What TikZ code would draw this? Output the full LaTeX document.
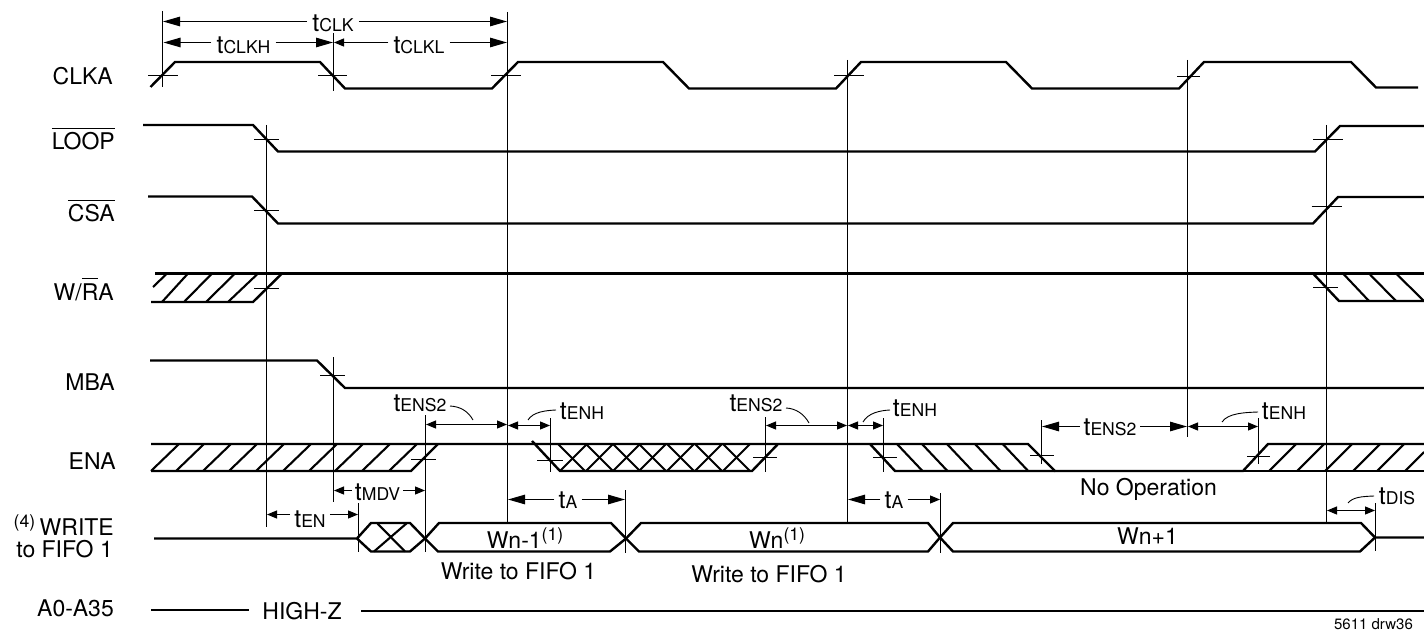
\documentclass[tikz,border=0pt]{standalone}
\usepackage{fontspec}
\setmainfont{TeX Gyre Heros}
\usetikzlibrary{arrows.meta}
\newcommand{\fbig}{\fontsize{23}{25}\selectfont}
\newcommand{\fsub}{\fontsize{17.6}{19}\selectfont}
\newcommand{\tl}[1]{{\fontsize{25}{26}\selectfont t\fsub #1}}
\newcommand{\supn}[1]{\raisebox{8pt}{\fsub(#1)}}
\newcommand{\ovl}[1]{\setbox0=\hbox{#1}\rlap{\raisebox{20.8pt}{\rule{\wd0}{1.1pt}}}\box0}
\tikzset{
  sig/.style={line width=2.4pt,line join=miter},
  hatch/.style={line width=2.1pt},
  thinl/.style={line width=1.1pt},
  lead/.style={line width=0.9pt},
  bigdim/.style={line width=1.1pt,-{Triangle[length=17pt,width=9.5pt]}},
  smalldim/.style={line width=1.1pt,-{Triangle[length=10pt,width=8pt]}},
  bothsmall/.style={line width=1.1pt,{Triangle[length=10pt,width=8pt]}-{Triangle[length=10pt,width=8pt]}},
  lab/.style={anchor=base east,inner sep=0pt,font=\fbig},
  txt/.style={anchor=base,inner sep=0pt,font=\fbig},
  tlab/.style={anchor=base,inner ysep=0pt,inner xsep=#1},
  tlab/.default=4pt
}
\begin{document}
\begin{tikzpicture}[x=1pt,y=-1pt]
\useasboundingbox (0,0) rectangle (1424,631);
\fill[white] (0,0) rectangle (1424,631);

% signal labels
\node[lab] (lclk) at (113,85) {CLKA};
\node[lab] (lloop) at (115,150) {\ovl{LOOP}};
\node[lab] (lcsa) at (115,222) {\ovl{CSA}};
\node[lab] (lwra) at (114,300) {W/\ovl{R}A};
\node[lab] (lmba) at (115,390.7) {MBA};
\node[lab] (lena) at (116,469) {ENA};
\node[lab] (lwr) at (114,535.7) {\supn{4}\hspace{4.5pt}WRITE};
\node[lab] (lff) at (113,557.7) {to FIFO 1};
\node[lab] (la) at (114,616.7) {A0-A35};

% waveforms
\draw[sig] (150.5,87) -- (175,62) -- (320,62) -- (345,88.5) -- (492,88.5) -- (518,62) -- (663,62) -- (689,88.5) -- (836,88.5) -- (861,62) -- (1006,62) -- (1032,88.5) -- (1179,88.5) -- (1204,62) -- (1351,62) -- (1376,87.5) -- (1418,87.5);
\draw[sig] (143,125) -- (253,125) -- (278,151.5) -- (1315,151.5) -- (1340,126) -- (1424,126);
\draw[sig] (148,196.5) -- (252,196.5) -- (278,223.5) -- (1313,223.5) -- (1338,197) -- (1424,197);
% W/RA
\draw[sig] (155,273.5) -- (1424,273.5);
\draw[sig] (151,302) -- (253,302) -- (282,273.5);
\draw[sig] (1313,273.5) -- (1339,301) -- (1424,301);
\foreach \a/\b/\c/\d in {153/287/167/273.5,162/302/188/273.5,184/302/212/273.5,206/302/235/273.5,228/302/258/273.5,
   1343/273.5/1369/301,1369/273.5/1396/301,1396/273.5/1424/301}
  \draw[hatch] (\a,\b) -- (\c,\d);
% MBA
\draw[sig] (150,360.5) -- (317,360.5) -- (345,388) -- (1424,388);
% ENA
\draw[sig] (151,444) -- (1028,444) -- (1055,471) -- (1243,471) -- (1268,444) -- (1424,444);
\draw[sig] (151,471) -- (411,471) -- (438,444);
\draw[sig] (532,441) -- (560,471) -- (752,471) -- (778,444);
\draw[sig] (870,444) -- (895,471) -- (1055,471);
\draw[sig] (1243,471) -- (1424,471);
\foreach \x in {151,176,203,229,256,283,309,335,362,389}
  \draw[hatch] (\x,471) -- (\x+28,444);
\foreach \x in {560,586,613,639,667,695,723}
  \draw[hatch] (\x,471) -- (\x+27,444);
\foreach \x in {558,586,613,639,667,695,723}
  \draw[hatch] (\x,444) -- (\x+27,471);
\foreach \x in {897,922,947,975,1002.7}
  \draw[hatch] (\x,444) -- (\x+25.5,471);
\foreach \x in {1269,1297,1325,1353,1377}
  \draw[hatch] (\x,471) -- (\x+27,444);
\draw[hatch] (1405,471) -- (1424,452);
% bus
\draw[sig] (154,538.5) -- (357,538.5) -- (371,523) -- (410,523) -- (425,538.5) -- (439,523) -- (611,523) -- (626,538.5) -- (641,523) -- (928,523) -- (940,537.5) -- (953,523) -- (1361,523) -- (1375,537.5) -- (1424,537.5);
\draw[sig] (357,538.5) -- (371,551.5) -- (410,551.5) -- (425,538.5) -- (438,551.5) -- (610,551.5) -- (626,538.5) -- (639,551.5) -- (928,551.5) -- (940,537.5) -- (953,551.5) -- (1360,551.5) -- (1375,537.5);
\draw[hatch] (377,523) -- (405,551.5);
\draw[hatch] (374,551.5) -- (407,523);
% A0-A35
\node[txt] (hz) at (302,619.3) {HIGH-Z};
\draw[sig] (151,610) -- (249,610);
\draw[sig] (361,611) -- (1424,611);

% timing verticals
\foreach \x/\a/\b in {162.5/11/87,333.5/33/91,507.5/12/523,266.5/125/527,333.5/357/502,425.5/415/552,358.5/503/552,
   847.5/60/522,1187.5/60/437,1326.5/125/522,550.5/418/472,765.5/417/472,883.5/418/472,1041.5/420/464,1258.5/418/464,
   625.5/490/553,940.5/493/553,1375.5/503/551}
  \draw[thinl] (\x,\a) -- (\x,\b);
% crossing ticks
\foreach \a/\b/\y in {148/178/75.5,318/347/75.5,491/521/75.5,834/864/75.5,1177/1200/76.5,
   254/279/139.5,1313/1343/139.5,254/279/210.5,1311.5/1342/206.5,254/279/288.5,1313/1338/287.5,
   320/345/375.5,411/436/459.5,537/562.7/460.5,753/777/457.5,873/897/457.5,1030/1054/455.5,1247/1270/456.5}
  \draw[thinl] (\a,\y) -- (\b,\y);

% dimension end points
\coordinate (ck1) at (163,21.5);   \coordinate (ck2) at (507,21.5);
\coordinate (ch1) at (163.5,42.5); \coordinate (ch2) at (333,42.5);
\coordinate (cl1) at (334,42.5); \coordinate (cl2) at (507,42.5);
\coordinate (es1a) at (426,424.5); \coordinate (es1b) at (507,424.5);
\coordinate (eh1a) at (508,425.5); \coordinate (eh1b) at (550,425.5);
\coordinate (es2a) at (766,425.5); \coordinate (es2b) at (847,425.5);
\coordinate (eh2a) at (848,425.5); \coordinate (eh2b) at (883,425.5);
\coordinate (es3a) at (1042,426.5); \coordinate (es3b) at (1187,426.5);
\coordinate (eh3a) at (1188,426.5); \coordinate (eh3b) at (1258,426.5);
\coordinate (md1) at (334,490.5); \coordinate (md2) at (425,490.5);
\coordinate (en1) at (267,514.5); \coordinate (en2) at (358,514.5);
\coordinate (ta1a) at (508,499.5); \coordinate (ta1b) at (625,499.5);
\coordinate (ta2a) at (848,499.5); \coordinate (ta2b) at (940,499.5);
\coordinate (di1) at (1327,510.5); \coordinate (di2) at (1375,510.5);

% dimension labels and arrows
\node[tlab=5pt] (tck) at (333,31.7) {\tl{CLK}};
\draw[bigdim] (tck.west |- ck1) -- (ck1);
\draw[bigdim] (tck.east |- ck2) -- (ck2);
\node[tlab=5pt] (tch) at (243.5,53.3) {\tl{CLKH}};
\draw[bigdim] (tch.west |- ch1) -- (ch1);
\draw[bigdim] (tch.east |- ch2) -- (ch2);
\node[tlab=5pt] (tcl) at (419,54) {\tl{CLKL}};
\draw[smalldim] (tcl.west |- cl1) -- (cl1);
\draw[bigdim] (tcl.east |- cl2) -- (cl2);

\node[tlab=0pt] (tes1) at (420,411.7) {\tl{ENS2}};
\draw[bothsmall] (es1a) -- (es1b);
\draw[lead] (450,406) .. controls (460,406.5) and (468,411) .. (473,420);
\node[tlab=0pt] (teh1) at (582,419) {\tl{ENH}};
\draw[bothsmall] (eh1a) -- (eh1b);
\draw[lead] (528,420) .. controls (533,412) and (545,410.5) .. (556,410);

\node[tlab=0pt] (tes2) at (756,411.7) {\tl{ENS2}};
\draw[bothsmall] (es2a) -- (es2b);
\draw[lead] (786,408) .. controls (796,408.5) and (804,414) .. (809,423);
\node[tlab=0pt] (teh2) at (915,416) {\tl{ENH}};
\draw[bothsmall] (eh2a) -- (eh2b);
\draw[lead] (863,422) .. controls (868,413) and (880,410.5) .. (890,410);

\node[tlab=3.5pt] (tes3) at (1110,435) {\tl{ENS2}};
\draw[bigdim] (tes3.west |- es3a) -- (es3a);
\draw[bigdim] (tes3.east |- es3b) -- (es3b);
\node[tlab=0pt] (teh3) at (1284,419) {\tl{ENH}};
\draw[bothsmall] (eh3a) -- (eh3b);
\draw[lead] (1222,422) .. controls (1228,413) and (1245,412.5) .. (1258,412);

\node[tlab=3pt] (tmd) at (377.5,500) {\tl{MDV}};
\draw[smalldim] (tmd.west |- md1) -- (md1);
\draw[smalldim] (tmd.east |- md2) -- (md2);
\node[tlab=4pt] (ten) at (310,527) {\tl{EN}};
\draw[smalldim] (ten.west |- en1) -- (en1);
\draw[smalldim] (ten.east |- en2) -- (en2);
\node[tlab=4pt] (tta1) at (568,508) {\tl{A}};
\draw[bigdim] (tta1.west |- ta1a) -- (ta1a);
\draw[bigdim] (tta1.east |- ta1b) -- (ta1b);
\node[tlab=4pt] (tta2) at (894,508) {\tl{A}};
\draw[bigdim] (tta2.west |- ta2a) -- (ta2a);
\draw[smalldim] (tta2.east |- ta2b) -- (ta2b);
\node[tlab=0pt] (tdi) at (1397,504) {\tl{DIS}};
\draw[bothsmall] (di1) -- (di2);
\draw[lead] (1348,503) .. controls (1353,497) and (1362,496.5) .. (1374,496);

% texts
\node[txt] (nop) at (1148.5,495) {No Operation};
\node[txt] (w0) at (525,548) {Wn-1\supn{1}};
\node[txt] (w1) at (777,548) {Wn\supn{1}};
\node[txt] (w2) at (1147.5,544) {Wn+1};
\node[txt] (wf1) at (518.5,579.3) {Write to FIFO 1};
\node[txt] (wf2) at (769,582.7) {Write to FIFO 1};
\node[anchor=base,inner sep=0pt,font=\fontsize{15}{16}\selectfont] (drw) at (1373.5,629.5) {5611 drw36};
\end{tikzpicture}
\end{document}
